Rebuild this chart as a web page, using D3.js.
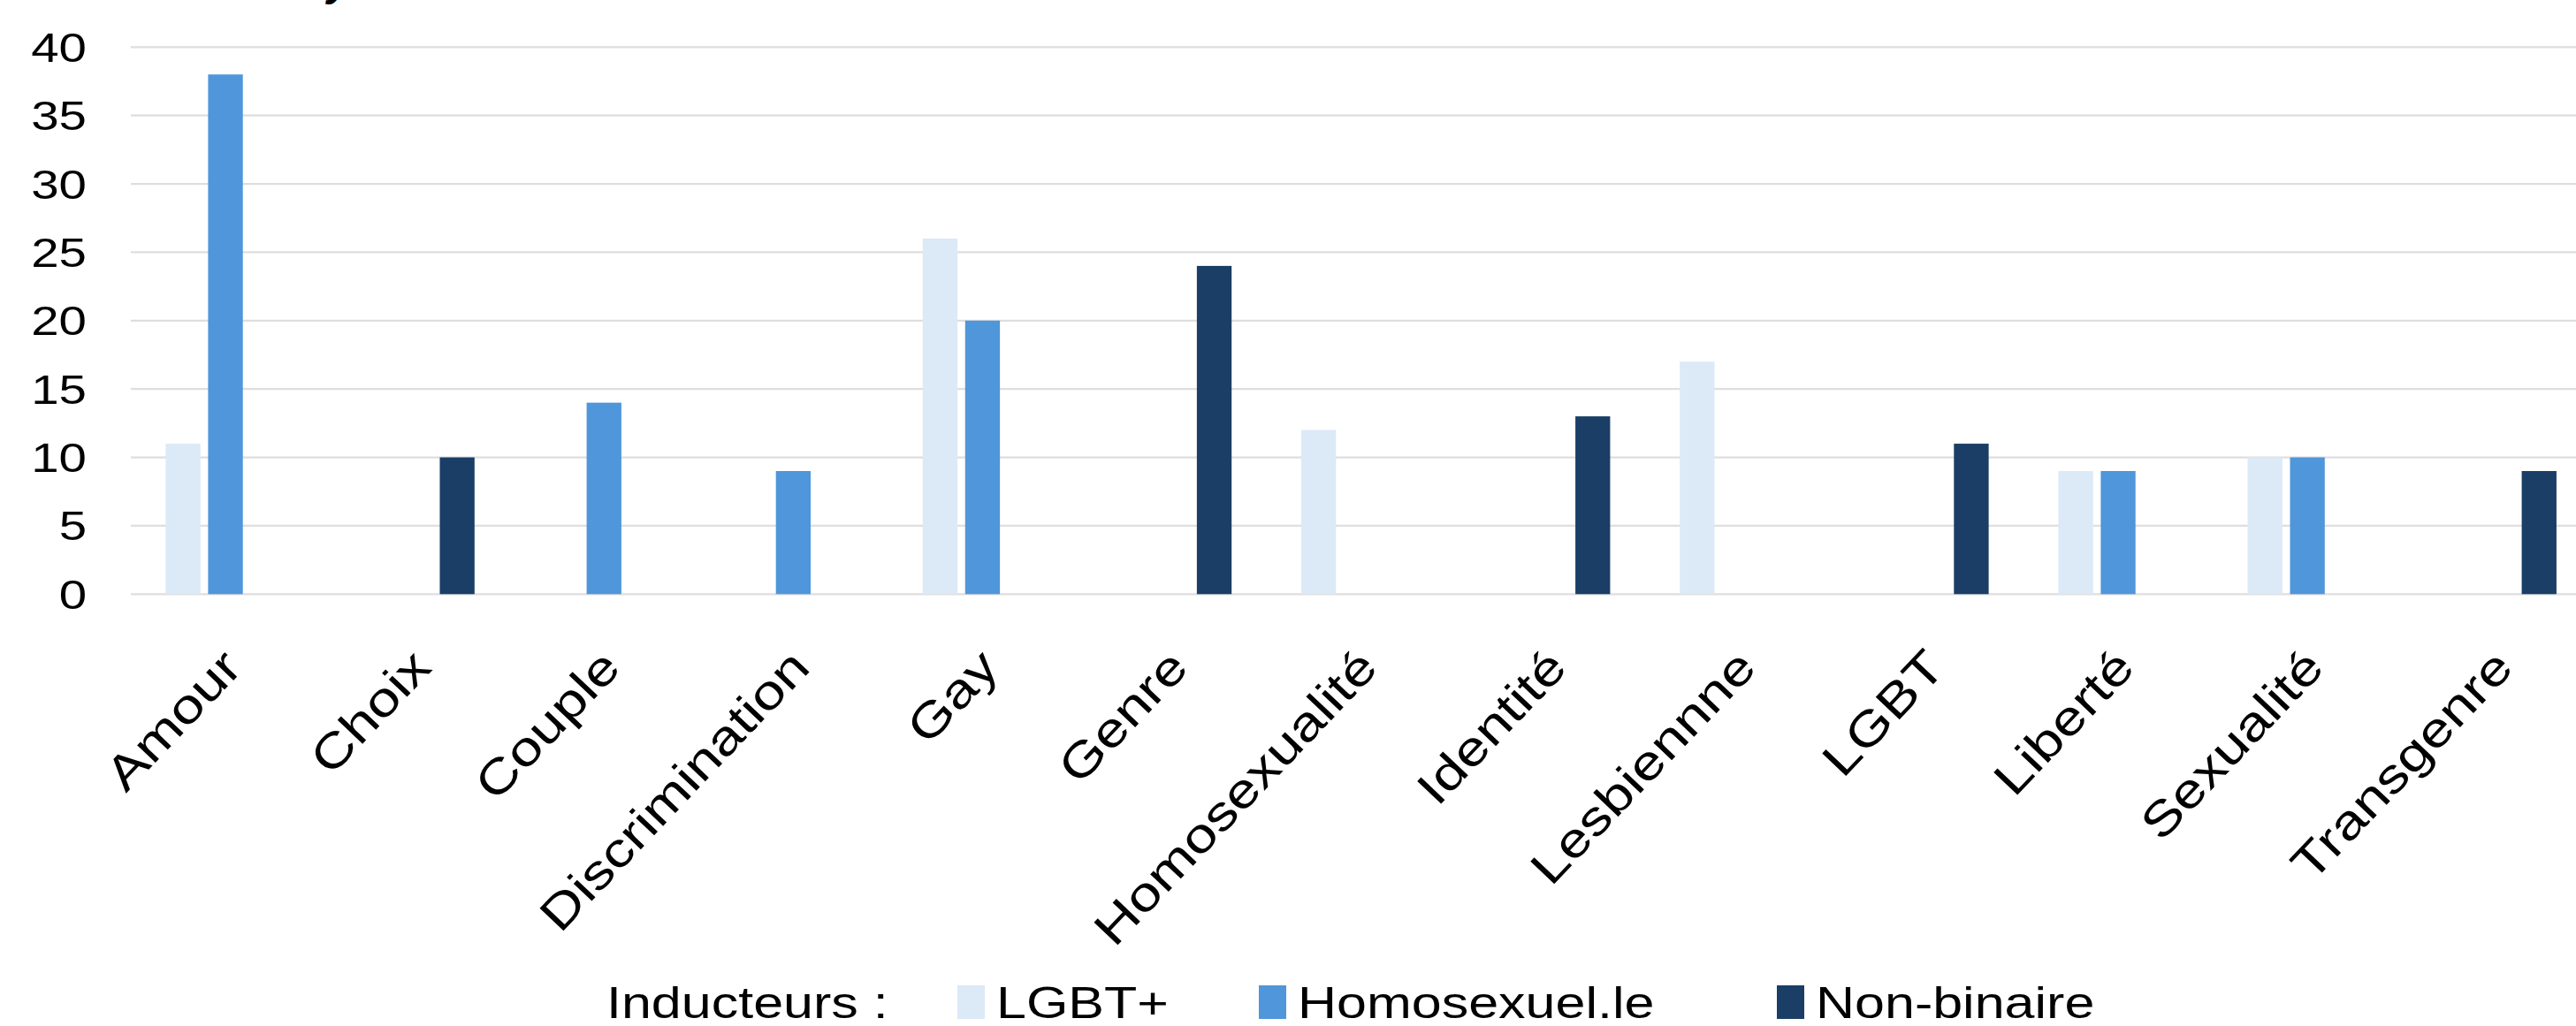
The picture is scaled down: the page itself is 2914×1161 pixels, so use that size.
<!DOCTYPE html>
<html>
<head>
<meta charset="utf-8">
<script src="https://cdn.jsdelivr.net/npm/d3@7/dist/d3.min.js"></script>
<style>
    body { margin: 0; background: #fff; }
    svg text { font-family: "Liberation Sans", Arial, sans-serif; fill: #000; }
</style>
</head>
<body>
<svg id="chart"></svg>
<script>
    const categories = ['Amour', 'Choix', 'Couple', 'Discrimination', 'Gay', 'Genre', 'Homosexualité',
        'Identité', 'Lesbiennne', 'LGBT', 'Liberté', 'Sexualité', 'Transgenre'];
    const seriesNames = ['LGBT+', 'Homosexuel.le', 'Non-binaire'];
    const lgbt = [11, null, null, null, 26, null, 12, null, 17, null, 9, 10, null];
    const homo = [38, null, 14, 9, 20, null, null, null, null, null, 9, 10, null];
    const nonBinaire = [null, 10, null, null, null, 24, null, 13, null, 11, null, null, 9];
    const yTicks = [0, 5, 10, 15, 20, 25, 30, 35, 40];
    const legendTitle = 'Inducteurs :';

    const colors = ['#dce9f7', '#4f96da', '#1a3e65'];
    const width = 2914;
    const height = 1161;
    // the source font is wider than Liberation Sans, so texts get stretched a bit
    const tickFont = 47, tickStretch = 1.2;
    const labelFont = 54, labelStretch = 1.22, labelAngle = -46.5;
    const legendFont = 50, legendStretch = 1.22;

    const svg = d3.select('#chart')
        .attr('width', width)
        .attr('height', height);

    // bit of the cut-off title at the top edge
    svg.append('text')
        .attr('x', 370)
        .attr('y', -5)
        .attr('font-size', 48)
        .attr('font-style', 'italic')
        .attr('font-weight', 'bold')
        .text('y');

    const plotLeft = 148;
    const step = 214.1;
    const x = d3.scaleBand()
        .domain(categories)
        .range([plotLeft, plotLeft + step * categories.length])
        .paddingInner(0.368)
        .paddingOuter(0.184);

    const xs = d3.scaleBand()
        .domain(seriesNames)
        .range([0, x.bandwidth()])
        .paddingInner(0.181);

    const y = d3.scaleLinear()
        .domain([0, 40])
        .range([672.3, 53.3]);

    // gridlines
    svg.append('g')
        .selectAll('line')
        .data(yTicks)
        .enter().append('line')
            .attr('x1', plotLeft)
            .attr('x2', width)
            .attr('y1', (d) => y(d))
            .attr('y2', (d) => y(d))
            .attr('stroke', '#dedede')
            .attr('stroke-width', 2.2);

    // y labels
    svg.append('g')
        .selectAll('text')
        .data(yTicks)
        .enter().append('text')
            .attr('transform', (d) => `translate(98, ${y(d)}) scale(${tickStretch}, 1)`)
            .attr('text-anchor', 'end')
            .attr('dy', '0.35em')
            .attr('font-size', tickFont)
            .text((d) => d);

    const series = [lgbt, homo, nonBinaire];
    const bars = [];
    series.forEach((values, s) => {
        values.forEach((v, i) => {
            if (v !== null) {
                bars.push({ cat: categories[i], name: seriesNames[s], value: v, color: colors[s] });
            }
        });
    });

    svg.append('g')
        .selectAll('rect')
        .data(bars)
        .enter().append('rect')
            .attr('x', (d) => x(d.cat) + xs(d.name))
            .attr('y', (d) => y(d.value))
            .attr('width', xs.bandwidth())
            .attr('height', (d) => y(0) - y(d.value))
            .attr('fill', (d) => d.color);

    // category labels, rotated
    svg.append('g')
        .selectAll('text')
        .data(categories)
        .enter().append('text')
            .attr('transform', (d) => `translate(${x(d) + x.bandwidth() / 2 + 21}, ${y(0) + 85}) rotate(${labelAngle}) scale(${labelStretch}, 1)`)
            .attr('text-anchor', 'end')
            .attr('font-size', labelFont)
            .text((d) => d);

    // legend
    const legendY = 1134;
    const legend = svg.append('g');
    legend.append('text')
        .attr('transform', `translate(686, ${legendY}) scale(${legendStretch}, 1)`)
        .attr('dy', '0.35em')
        .attr('font-size', legendFont)
        .text(legendTitle);

    const legendX = [1083, 1424, 2010];
    seriesNames.forEach((name, i) => {
        legend.append('rect')
            .attr('x', legendX[i])
            .attr('y', legendY - 19)
            .attr('width', 31)
            .attr('height', 38)
            .attr('fill', colors[i]);
        legend.append('text')
            .attr('transform', `translate(${legendX[i] + 44}, ${legendY}) scale(${legendStretch}, 1)`)
            .attr('dy', '0.35em')
            .attr('font-size', legendFont)
            .text(name);
    });
</script>
</body>
</html>
